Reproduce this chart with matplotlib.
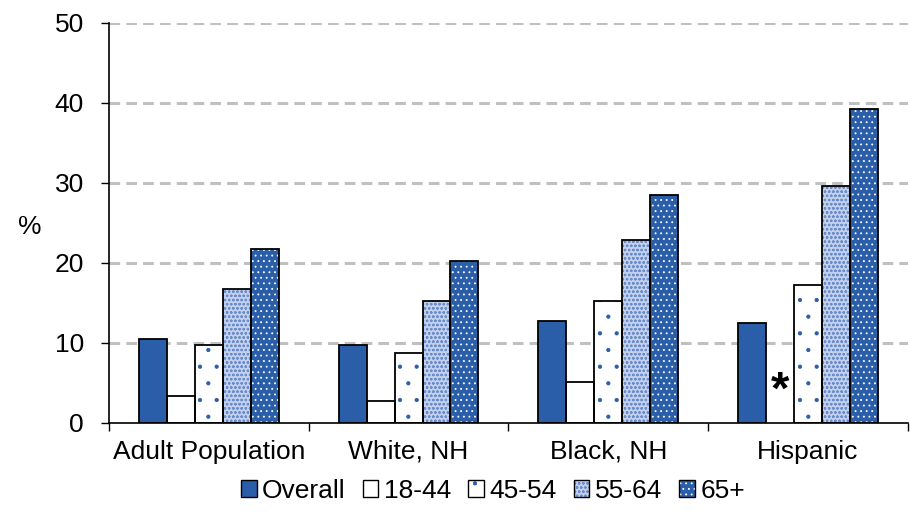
import numpy as np
import matplotlib
matplotlib.use("Agg")
import matplotlib.pyplot as plt
from matplotlib.patches import Patch
from matplotlib.legend_handler import HandlerTuple

plt.rcParams['font.family'] = ['Liberation Sans', 'DejaVu Sans']
plt.rcParams['hatch.linewidth'] = 0.6

groups = ['Adult Population', 'White, NH', 'Black, NH', 'Hispanic']
series = ['Overall', '18-44', '45-54', '55-64', '65+']
overall = [10.5, 9.8, 12.7, 12.5]
age_18_44 = [3.4, 2.8, 5.1, np.nan]   # Hispanic value suppressed (*)
age_45_54 = [9.8, 8.7, 15.2, 17.2]
age_55_64 = [16.8, 15.2, 22.9, 29.6]
age_65 = [21.8, 20.2, 28.5, 39.3]
values = [overall, age_18_44, age_45_54, age_55_64, age_65]

blue = '#2a5ea8'
# face, hatch, hatch colour for each series
styles = [
    (blue, None, blue),
    ('white', None, 'white'),
    ('white', '.', blue),
    ('#c3d1ec', 'oooo', '#6a8ccb'),
    (blue, '...', 'white'),
]

fig = plt.figure(figsize=(9.16, 5.18), dpi=100)
ax = fig.add_axes([0.119, 0.1834, 0.872, 0.7722])

x = np.arange(len(groups))
w = 0.14
handles = []
for i, (name, vals) in enumerate(zip(series, values)):
    face, hatch, hcol = styles[i]
    pos = x + (i - 2) * w
    ax.bar(pos, vals, w, color=face, hatch=hatch, edgecolor=hcol, linewidth=0, zorder=2)
    ax.bar(pos, vals, w, fill=False, edgecolor='black', linewidth=1.3, zorder=3)
    handles.append((Patch(facecolor=face, hatch=hatch, edgecolor=hcol, linewidth=0),
                    Patch(fill=False, edgecolor='black', linewidth=1.0)))

# suppressed estimate
ax.text(x[3] - w, 3.9, '*', ha='center', va='center', fontsize=34, fontweight='bold')

ax.set_ylim(0, 50)
ax.set_xlim(-0.5, len(groups) - 0.5)
ax.set_yticks(range(0, 51, 10))
ax.tick_params(axis='y', labelsize=19, length=6, width=1, direction='out', pad=12)
ax.set_xticks(x)
ax.set_xticklabels(groups)
ax.tick_params(axis='x', which='major', length=0, labelsize=19, pad=12)
ax.set_xticks(np.arange(len(groups) + 1) - 0.5, minor=True)
ax.tick_params(axis='x', which='minor', length=6, width=1, direction='out')

for yv in range(10, 51, 10):
    ax.axhline(yv, color='#c0c0c0', linewidth=2.2, linestyle=(0, (3.5, 2)), zorder=1)

for s in ['top', 'right']:
    ax.spines[s].set_visible(False)
ax.spines['left'].set_linewidth(1.2)
ax.spines['bottom'].set_linewidth(1.2)

fig.text(30 / 916, 1 - 227 / 518, '%', fontsize=19, ha='center', va='center')

fig.legend(handles, series, loc='center', bbox_to_anchor=(0.538, 0.053), ncol=5,
           frameon=False, fontsize=19, handlelength=0.6, handleheight=0.6,
           handletextpad=0.2, columnspacing=0.65,
           handler_map={tuple: HandlerTuple(ndivide=1)})

fig.savefig('out.png', dpi=100)
